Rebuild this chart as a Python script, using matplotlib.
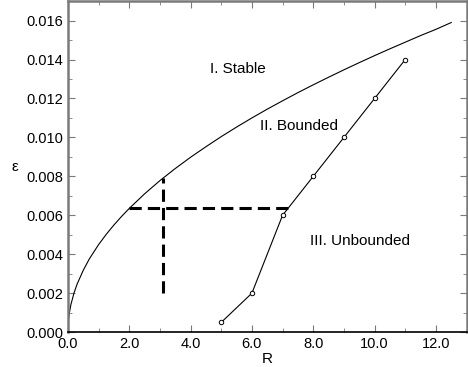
import matplotlib
matplotlib.use("Agg")
import matplotlib.pyplot as plt
from matplotlib.ticker import MultipleLocator, FormatStrFormatter

plt.rcParams['font.family'] = ['Liberation Sans', 'DejaVu Sans']

# stability boundary
curve_R = [0.0, 0.02, 0.05, 0.1, 0.2, 0.3, 0.5, 0.7, 1.0, 1.25, 1.5, 1.75, 2.0,
           2.5, 3.0, 3.5, 4.0, 4.5, 5.0, 5.5, 6.0, 6.5, 7.0, 7.5, 8.0, 8.5,
           9.0, 9.5, 10.0, 10.5, 11.0, 11.5, 12.0, 12.5]
curve_eps = [0.0, 0.00064, 0.00100, 0.00142, 0.00201, 0.00246, 0.00317, 0.00376,
             0.00449, 0.00502, 0.00550, 0.00594, 0.00635, 0.00710, 0.00778,
             0.00840, 0.00898, 0.00952, 0.01004, 0.01053, 0.01100, 0.01145,
             0.01188, 0.01230, 0.01270, 0.01309, 0.01347, 0.01384, 0.01420,
             0.01455, 0.01489, 0.01523, 0.01555, 0.01590]

# bounded / unbounded boundary points
pts_R = [5, 6, 7, 8, 9, 10, 11]
pts_eps = [0.0005, 0.002, 0.006, 0.008, 0.010, 0.012, 0.014]

# dashed guide lines
hline_eps = 0.0064
hline_R = [2.0, 7.25]
vline_R = 3.1
vline_eps = [0.002, 0.0079]

fig = plt.figure(figsize=(4.68, 3.67), dpi=100)
ax = fig.add_axes([0.145, 0.095, 0.852, 0.902])

ax.plot(curve_R, curve_eps, color='black', lw=0.8)
ax.plot(pts_R, pts_eps, color='black', lw=0.8, marker='o', ms=3.2,
        mfc='white', mec='black', mew=0.7)
ax.plot(hline_R, [hline_eps, hline_eps], color='black', lw=2.2, ls=(0, (4, 2)))
ax.plot([vline_R, vline_R], vline_eps, color='black', lw=2.2, ls=(0, (4, 2)))

ax.text(4.65, 0.0135, 'I. Stable', fontsize=11, va='center')
ax.text(6.25, 0.0106, 'II. Bounded', fontsize=11, va='center')
ax.text(7.9, 0.0047, 'III. Unbounded', fontsize=11, va='center')

ax.set_xlim(0, 13)
ax.set_ylim(0, 0.017)
ax.xaxis.set_major_locator(MultipleLocator(2))
ax.xaxis.set_minor_locator(MultipleLocator(1))
ax.yaxis.set_major_locator(MultipleLocator(0.002))
ax.yaxis.set_minor_locator(MultipleLocator(0.001))
ax.xaxis.set_major_formatter(FormatStrFormatter('%.1f'))
ax.yaxis.set_major_formatter(FormatStrFormatter('%.3f'))

for s in ax.spines.values():
    s.set_color('#7a7a7a')
    s.set_linewidth(1.8)
ax.spines['bottom'].set_color('black')
ax.spines['bottom'].set_linewidth(1.2)
ax.tick_params(which='both', direction='in', top=True, right=True,
               color='#7a7a7a', labelsize=10.5)
ax.tick_params(which='major', length=5)
ax.tick_params(which='minor', length=3)

ax.set_xlabel('R', fontsize=11, labelpad=1)
ax.set_ylabel('ε', fontsize=11, rotation=0, labelpad=8, va='center')

fig.savefig('out.png', dpi=100)
